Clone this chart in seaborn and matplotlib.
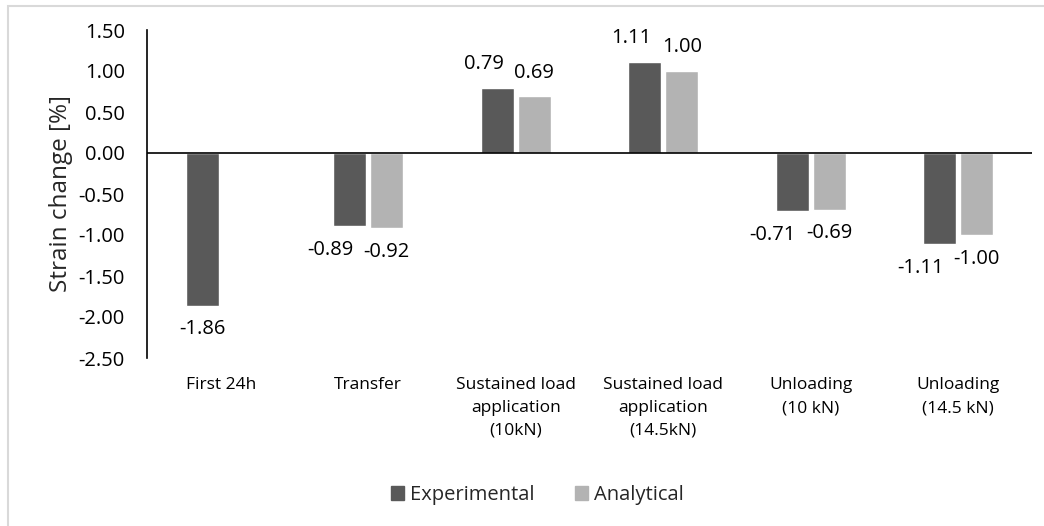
import numpy as np
import pandas as pd
import matplotlib
matplotlib.use("Agg")
import matplotlib.pyplot as plt
import seaborn as sns
from matplotlib.patches import Rectangle

categories = ["First 24h", "Transfer", "Sustained load\napplication\n(10kN)",
              "Sustained load\napplication\n(14.5kN)", "Unloading\n(10 kN)", "Unloading\n(14.5 kN)"]
experimental = [-1.86, -0.89, 0.79, 1.11, -0.71, -1.11]
analytical = [np.nan, -0.92, 0.69, 1.00, -0.69, -1.00]
series = ["Experimental", "Analytical"]
colors = ["#595959", "#B3B3B3"]
yticks = [-2.5, -2.0, -1.5, -1.0, -0.5, 0.0, 0.5, 1.0, 1.5]

df = pd.DataFrame({
    "category": categories * 2,
    "series": [series[0]] * len(categories) + [series[1]] * len(categories),
    "value": experimental + analytical,
})

sns.set_theme(style="white")
plt.rcParams["font.family"] = ["Open Sans", "DejaVu Sans"]

fig = plt.figure(figsize=(10.44, 5.26), dpi=100)
ax = fig.add_axes([147 / 1044, 1 - 358 / 526, (1032 - 147) / 1044, (358 - 30) / 526])

sns.barplot(data=df, x="category", y="value", hue="series", order=categories,
            hue_order=series, palette=colors, width=0.5, gap=0.1,
            errorbar=None, ax=ax, legend=True, saturation=1)

# data labels, keyed by (series index, category index)
labels = {}
for si, cont in enumerate(ax.containers[:2]):
    anns = ax.bar_label(cont, fmt="{:.2f}", padding=10, fontsize=14.5, color="black")
    for patch, ann in zip(cont.patches, anns):
        ci = int(round(patch.get_x() + patch.get_width() / 2))
        labels[(si, ci)] = ann

ax.set_ylim(-2.5, 1.5)
ax.set_xlim(-0.5, len(categories) - 0.5)
ax.set_yticks(yticks)
ax.set_yticklabels([f"{t:.2f}" for t in yticks], fontsize=14.5, color="black")
ax.tick_params(axis="y", length=0, pad=16)
ax.tick_params(axis="x", length=0, pad=14, labelsize=12.5, labelcolor="black")
for t in ax.get_xticklabels():
    t.set_linespacing(1.55)
ax.set_xlabel("")
ax.set_ylabel("Strain change [%]", fontsize=17.5, color="#262626", labelpad=4)

for s in ["top", "right", "bottom"]:
    ax.spines[s].set_visible(False)
ax.spines["left"].set_color("black")
ax.spines["left"].set_linewidth(1.2)
ax.axhline(0, color="black", linewidth=1.2, zorder=3)

leg = ax.get_legend()
leg.remove()
handles = [Rectangle((0, 0), 1, 1, color=c) for c in colors]
fig.legend(handles, series, loc="center", bbox_to_anchor=(537 / 1044, 1 - 495 / 526),
           ncol=2, frameon=False, fontsize=14.5, handlelength=0.65, handleheight=0.65,
           handletextpad=0.3, columnspacing=2.0)

# chart border
fig.patches.append(Rectangle((8 / 1044, -0.1), 1.2, 1 - 6 / 526 + 0.1, transform=fig.transFigure,
                             fill=False, edgecolor="#D9D9D9", linewidth=1.5))

# nudge overlapping experimental labels to the left (as Excel does)
fig.canvas.draw()
r = fig.canvas.get_renderer()
gap_px = 10
for ci in range(len(categories)):
    if (0, ci) in labels and (1, ci) in labels:
        a, b = labels[(0, ci)], labels[(1, ci)]
        ba, bb = a.get_window_extent(r), b.get_window_extent(r)
        if ba.x1 + gap_px > bb.x0 and ba.y0 < bb.y1 and bb.y0 < ba.y1:
            shift = (ba.x1 + gap_px - bb.x0) * 72 / fig.dpi
            x0, y0 = a.xyann
            a.xyann = (x0 - shift, y0)

fig.savefig("out.png", dpi=100)
